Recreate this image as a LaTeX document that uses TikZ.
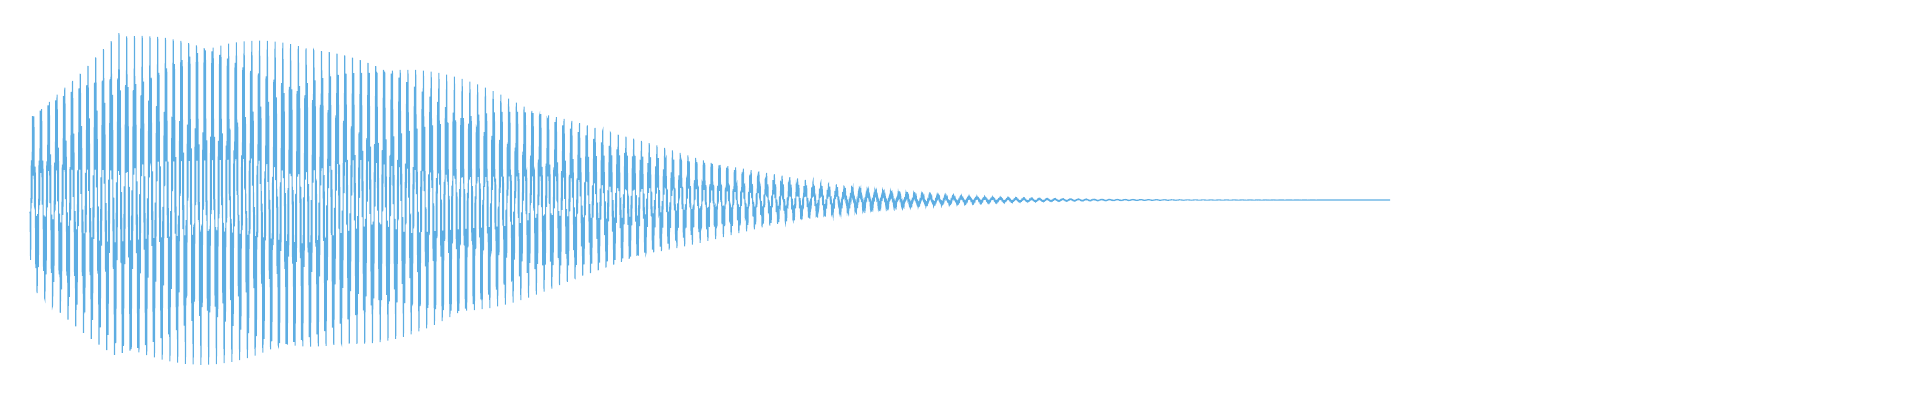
\documentclass[tikz,border=0pt]{standalone}
\definecolor{wave}{RGB}{93,173,226}
\begin{document}
\begin{tikzpicture}[wave line/.style={draw=wave, line width=0.3pt}]
\useasboundingbox (0,0) rectangle (19.2,4);
% rising start, then decaying envelope
\draw[wave line] plot[domain=0.3:13.9, samples=7000]
  (\x, {2 + (\x<1.2 ? (0.9+0.8*(\x-0.3)/0.9) : 1.65*exp(-(max(\x-1.8,0.001)/4.6)^2.4))
        * (0.62*sin(360*mod(\x/0.078,1)) + 0.38*sin(360*mod(\x/0.0129,1)))});
\end{tikzpicture}
\end{document}
